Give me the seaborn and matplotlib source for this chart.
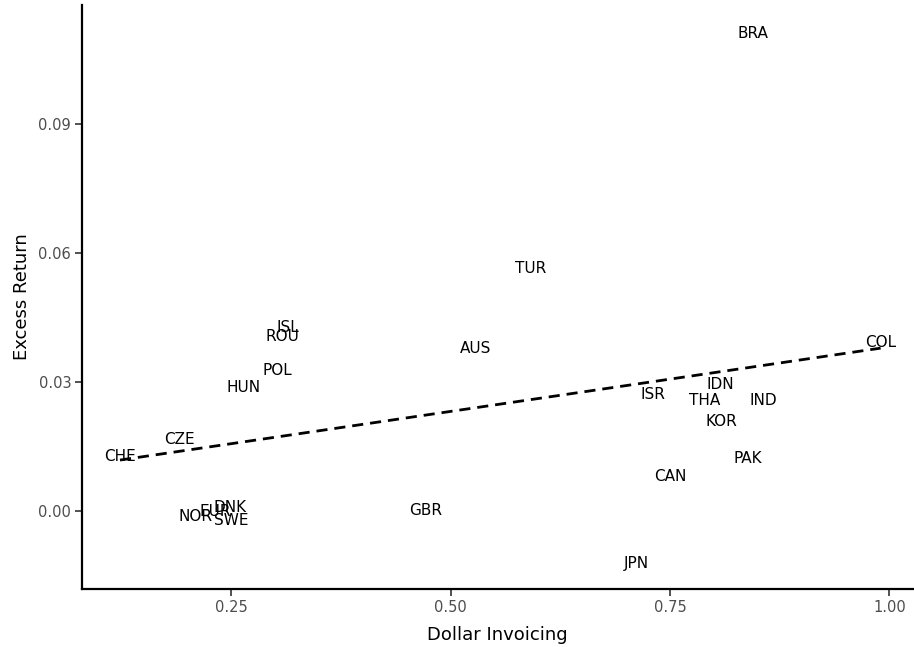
import matplotlib
matplotlib.use("Agg")
import matplotlib.pyplot as plt
import seaborn as sns
import pandas as pd

countries = ["BRA", "TUR", "COL", "AUS", "ISL", "ROU", "POL", "HUN", "CZE", "CHE",
             "NOR", "EUR", "DNK", "SWE", "GBR", "JPN", "ISR", "IDN", "THA", "IND",
             "KOR", "PAK", "CAN"]
dollar_invoicing = [0.844, 0.591, 0.990, 0.528, 0.314, 0.308, 0.302, 0.264, 0.191, 0.123,
                    0.209, 0.232, 0.248, 0.250, 0.471, 0.712, 0.730, 0.807, 0.789, 0.856,
                    0.809, 0.839, 0.750]
excess_return = [0.1112, 0.0565, 0.0391, 0.0377, 0.0428, 0.0407, 0.0328, 0.0288, 0.0167, 0.0126,
                 -0.0012, -0.0002, 0.0007, -0.0021, 0.0000, -0.0123, 0.0270, 0.0295, 0.0258, 0.0256,
                 0.0209, 0.0121, 0.0081]

df = pd.DataFrame({"country": countries, "x": dollar_invoicing, "y": excess_return})

sns.set_style("ticks")
plt.rcParams["font.family"] = ["DejaVu Sans"]

fig, ax = plt.subplots(figsize=(9.14, 6.47), dpi=100)
fig.subplots_adjust(left=0.09, right=0.999, bottom=0.09, top=0.992)

sns.regplot(data=df, x="x", y="y", scatter=False, ci=None, ax=ax,
            line_kws={"color": "black", "linestyle": (0, (4, 2.5)), "linewidth": 2})

for _, r in df.iterrows():
    ax.text(r["x"], r["y"], r["country"], ha="center", va="center", fontsize=11, color="black")

ax.set_xlim(0.080, 1.027)
ax.set_ylim(-0.0181, 0.1177)
ax.set_xticks([0.25, 0.50, 0.75, 1.00])
ax.set_xticklabels(["0.25", "0.50", "0.75", "1.00"])
ax.set_yticks([0.00, 0.03, 0.06, 0.09])
ax.set_yticklabels(["0.00", "0.03", "0.06", "0.09"])
ax.tick_params(colors="#333333", labelsize=10.5, width=1.2, length=5, pad=3)
for lab in ax.get_xticklabels() + ax.get_yticklabels():
    lab.set_color("#4d4d4d")
ax.set_xlabel("Dollar Invoicing", fontsize=13, color="black", labelpad=8)
ax.set_ylabel("Excess Return", fontsize=13, color="black", labelpad=5)
for side in ["left", "bottom"]:
    ax.spines[side].set_linewidth(1.6)
    ax.spines[side].set_color("black")
sns.despine(ax=ax)

fig.savefig("out.png", dpi=100)
